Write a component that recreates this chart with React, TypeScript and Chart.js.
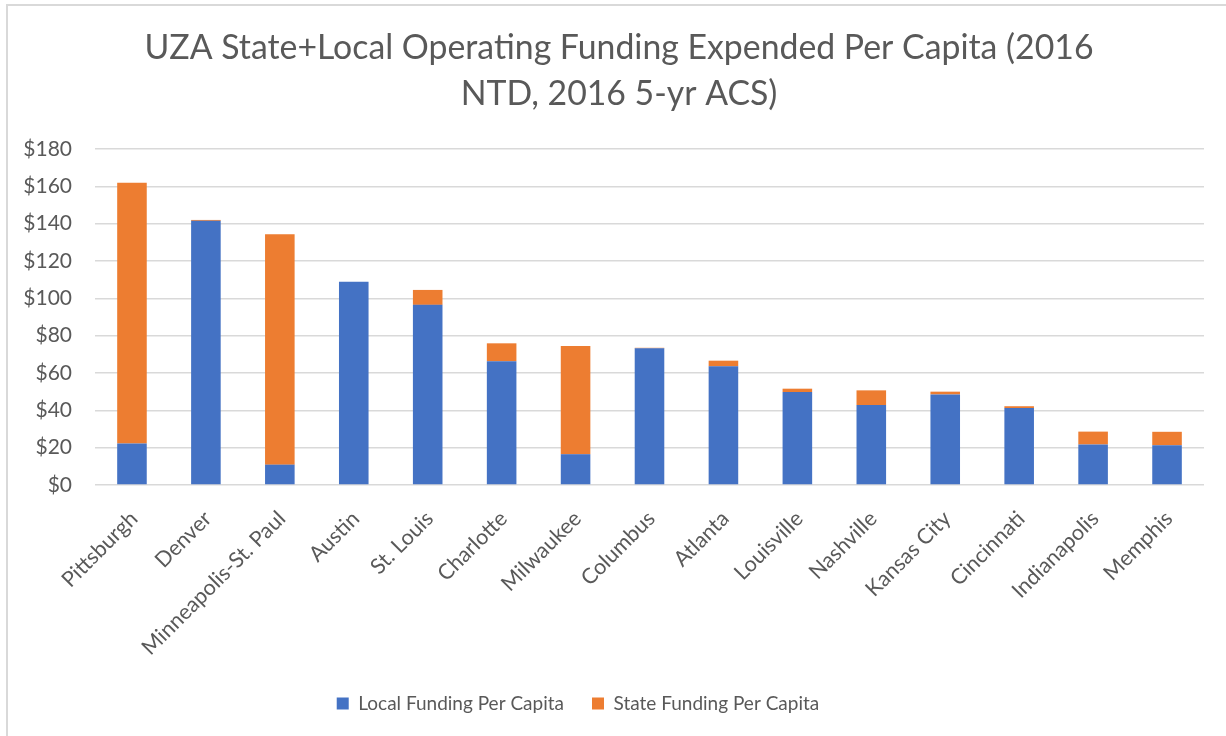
import React, { useEffect, useRef } from "react";
import { Chart, registerables } from "chart.js";

Chart.register(...registerables);

const categories: string[] = [
  "Pittsburgh",
  "Denver",
  "Minneapolis-St. Paul",
  "Austin",
  "St. Louis",
  "Charlotte",
  "Milwaukee",
  "Columbus",
  "Atlanta",
  "Louisville",
  "Nashville",
  "Kansas City",
  "Cincinnati",
  "Indianapolis",
  "Memphis",
];

const localFunding: number[] = [22.2, 141.5, 10.9, 108.9, 96.5, 66.3, 16.5, 73.2, 63.6, 49.8, 42.8, 48.5, 41.2, 21.7, 21.3];
const stateFunding: number[] = [139.7, 0.5, 123.4, 0, 8.0, 9.6, 58.0, 0.3, 3.0, 1.8, 7.9, 1.5, 1.0, 6.9, 7.2];

const titleLines: string[] = [
  "UZA State+Local Operating Funding Expended Per Capita (2016",
  "NTD, 2016 5-yr ACS)",
];

const yMin = 0;
const yMax = 180;
const yStep = 20;

const FONT = "Lato, 'Open Sans', sans-serif";
const TEXT = "#595959";
const GRID = "#d9d9d9";

// shifts the title and legend boxes horizontally (they are not centred on the canvas in the reference)
const shiftPlugin = {
  id: "shiftBoxes",
  afterLayout(chart: any) {
    const t = chart.titleBlock;
    if (t) {
      t.left += 17;
      t.right += 17;
    }
    const l = chart.legend;
    if (l) {
      l.left -= 24;
      l.right -= 24;
    }
  },
};

export default function App() {
  const ref = useRef<HTMLCanvasElement | null>(null);

  useEffect(() => {
    if (!ref.current) return;
    const chart = new Chart(ref.current, {
      type: "bar",
      data: {
        labels: categories,
        datasets: [
          {
            label: "Local Funding Per Capita",
            data: localFunding,
            backgroundColor: "#4472C4",
            categoryPercentage: 1,
            barPercentage: 0.4,
          },
          {
            label: "State Funding Per Capita",
            data: stateFunding,
            backgroundColor: "#ED7D31",
            categoryPercentage: 1,
            barPercentage: 0.4,
          },
        ],
      },
      options: {
        responsive: false,
        animation: false,
        layout: { padding: { top: 25, left: 0, right: 22, bottom: 13 } },
        plugins: {
          title: {
            display: true,
            text: titleLines,
            color: TEXT,
            font: { family: FONT, size: 33.8, weight: "normal", lineHeight: "46px" },
            padding: { top: 0, bottom: 32 },
          },
          legend: {
            position: "bottom",
            labels: {
              color: TEXT,
              font: { family: FONT, size: 19 },
              boxWidth: 12,
              boxHeight: 12,
              padding: 28,
            },
          },
          tooltip: { enabled: false },
        },
        scales: {
          x: {
            stacked: true,
            grid: { display: false, drawTicks: false },
            border: { display: false },
            ticks: {
              color: TEXT,
              font: { family: FONT, size: 21.5 },
              minRotation: 45,
              maxRotation: 45,
              padding: 21,
              labelOffset: 2,
              autoSkip: false,
            },
            afterFit: (scale: any) => {
              scale.height = 181;
            },
          },
          y: {
            stacked: true,
            min: yMin,
            max: yMax,
            grid: { color: GRID, lineWidth: 1.5, drawTicks: false },
            border: { display: false },
            ticks: {
              stepSize: yStep,
              color: TEXT,
              font: { family: FONT, size: 21 },
              padding: 23,
              callback: (v: any) => "$" + v,
            },
            afterFit: (scale: any) => {
              scale.width = 95;
            },
          },
        },
      },
      plugins: [shiftPlugin],
    });
    return () => chart.destroy();
  }, []);

  return (
    <div style={{ position: "fixed", left: 0, top: 0, width: 1226, height: 736, background: "#fff", overflow: "hidden" }}>
      <div
        style={{
          position: "absolute",
          left: 6,
          top: 4,
          width: 1240,
          height: 760,
          borderLeft: "2px solid #d9d9d9",
          borderTop: "2px solid #d9d9d9",
        }}
      />
      <canvas ref={ref} width={1226} height={736} style={{ position: "absolute", left: 0, top: 0, display: "block" }} />
    </div>
  );
}
